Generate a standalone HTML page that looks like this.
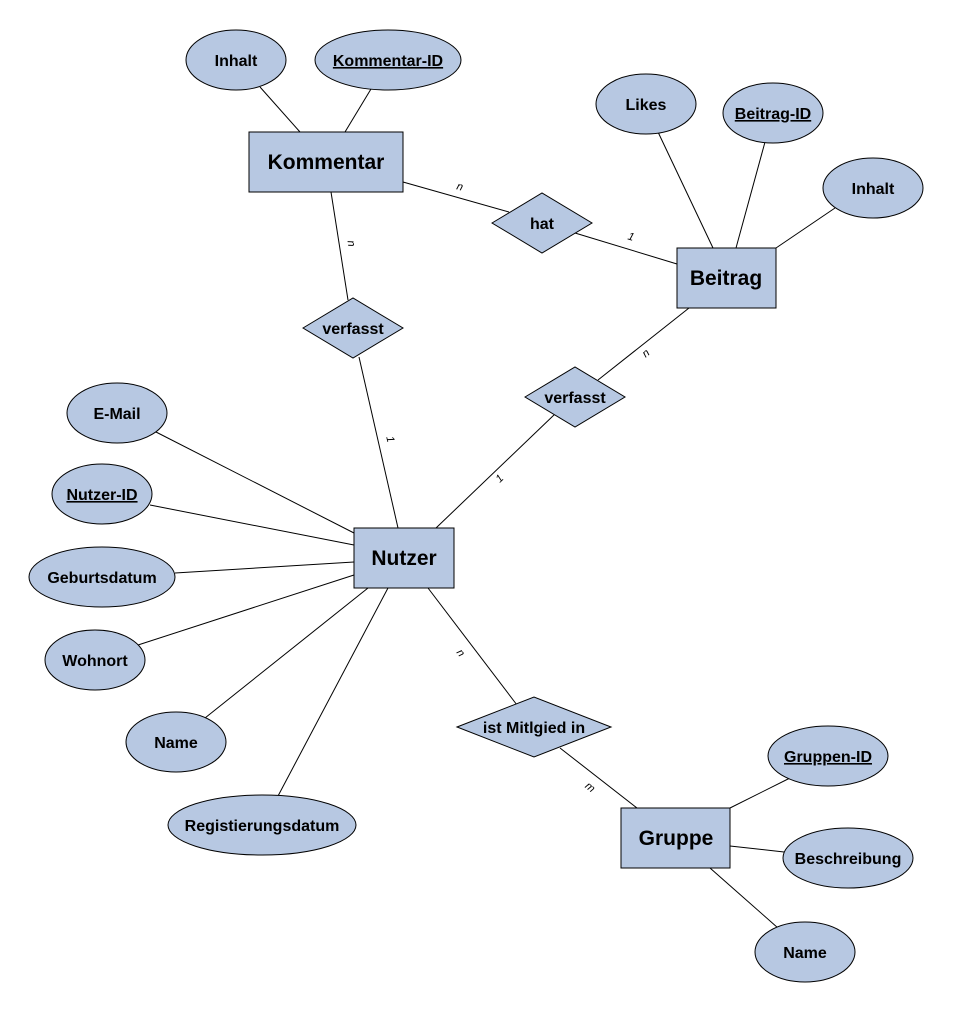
<!DOCTYPE html>
<html><head><meta charset="utf-8"><style>
html,body{margin:0;padding:0;background:#fff;}
text{font-family:"Liberation Sans",Arial,sans-serif;font-weight:bold;fill:#000;}
</style></head><body>
<svg width="954" height="1014" viewBox="0 0 954 1014" xmlns="http://www.w3.org/2000/svg">
<g stroke="#000" stroke-width="1" fill="none">
<line x1="260" y1="87" x2="300" y2="132"/>
<line x1="371" y1="89" x2="345" y2="132"/>
<line x1="403" y1="182" x2="509" y2="212"/>
<line x1="575" y1="233" x2="677" y2="264"/>
<line x1="331" y1="192" x2="348" y2="300"/>
<line x1="359" y1="357" x2="398" y2="528"/>
<line x1="689" y1="308" x2="598" y2="380"/>
<line x1="555" y1="414" x2="436" y2="528"/>
<line x1="658" y1="132" x2="713" y2="248"/>
<line x1="765" y1="142" x2="736" y2="248"/>
<line x1="835" y1="208" x2="776" y2="248"/>
<line x1="156" y1="432" x2="354" y2="533"/>
<line x1="150" y1="505" x2="354" y2="545"/>
<line x1="175" y1="573" x2="354" y2="562"/>
<line x1="138" y1="645" x2="354" y2="575"/>
<line x1="205" y1="718" x2="368" y2="588"/>
<line x1="278" y1="796" x2="388" y2="588"/>
<line x1="428" y1="588" x2="517" y2="705"/>
<line x1="560" y1="748" x2="637" y2="808"/>
<line x1="730" y1="808" x2="790" y2="778"/>
<line x1="730" y1="846" x2="784" y2="852"/>
<line x1="710" y1="868" x2="778" y2="928"/>
</g>
<g fill="#b7c8e2" stroke="#000" stroke-width="1">
<rect x="249" y="132" width="154" height="60"/>
<rect x="677" y="248" width="99" height="60"/>
<rect x="354" y="528" width="100" height="60"/>
<rect x="621" y="808" width="109" height="60"/>
<polygon points="492,223 542,193 592,223 542,253"/>
<polygon points="303,328 353,298 403,328 353,358"/>
<polygon points="525,397 575,367 625,397 575,427"/>
<polygon points="457,727 534,697 611,727 534,757"/>
<ellipse cx="236" cy="60" rx="50" ry="30"/>
<ellipse cx="388" cy="60" rx="73" ry="30"/>
<ellipse cx="646" cy="104" rx="50" ry="30"/>
<ellipse cx="773" cy="113" rx="50" ry="30"/>
<ellipse cx="873" cy="188" rx="50" ry="30"/>
<ellipse cx="117" cy="413" rx="50" ry="30"/>
<ellipse cx="102" cy="494" rx="50" ry="30"/>
<ellipse cx="102" cy="577" rx="73" ry="30"/>
<ellipse cx="95" cy="660" rx="50" ry="30"/>
<ellipse cx="176" cy="742" rx="50" ry="30"/>
<ellipse cx="262" cy="825" rx="94" ry="30"/>
<ellipse cx="828" cy="756" rx="60" ry="30"/>
<ellipse cx="848" cy="858" rx="65" ry="30"/>
<ellipse cx="805" cy="952" rx="50" ry="30"/>
</g>
<g text-anchor="middle" font-size="21">
<text x="326" y="169">Kommentar</text>
<text x="726" y="285">Beitrag</text>
<text x="404" y="565">Nutzer</text>
<text x="676" y="845">Gruppe</text>
</g>
<g text-anchor="middle" font-size="16">
<text x="542" y="229">hat</text>
<text x="353" y="334">verfasst</text>
<text x="575" y="403">verfasst</text>
<text x="534" y="733">ist Mitlgied in</text>
</g>
<g text-anchor="middle" font-size="16">
<text x="236" y="66">Inhalt</text>
<text x="388" y="66" text-decoration="underline">Kommentar-ID</text>
<text x="646" y="110">Likes</text>
<text x="773" y="119" text-decoration="underline">Beitrag-ID</text>
<text x="873" y="194">Inhalt</text>
<text x="117" y="419">E-Mail</text>
<text x="102" y="500" text-decoration="underline">Nutzer-ID</text>
<text x="102" y="583">Geburtsdatum</text>
<text x="95" y="666">Wohnort</text>
<text x="176" y="748">Name</text>
<text x="262" y="831">Registierungsdatum</text>
<text x="828" y="762" text-decoration="underline">Gruppen-ID</text>
<text x="848" y="864">Beschreibung</text>
<text x="805" y="958">Name</text>
</g>
<g font-size="11" font-style="italic" font-weight="normal" text-anchor="middle">
<text transform="translate(459,190) rotate(16)" style="font-weight:normal">n</text>
<text transform="translate(630,240) rotate(17)" style="font-weight:normal">1</text>
<text transform="translate(348,244) rotate(81)" style="font-weight:normal">n</text>
<text transform="translate(387,440) rotate(77)" style="font-weight:normal">1</text>
<text transform="translate(648,356) rotate(-39)" style="font-weight:normal">n</text>
<text transform="translate(502,481) rotate(-44)" style="font-weight:normal">1</text>
<text transform="translate(458,655) rotate(53)" style="font-weight:normal">n</text>
<text transform="translate(588,790) rotate(38)" style="font-weight:normal">m</text>
</g>
</svg>
</body></html>
